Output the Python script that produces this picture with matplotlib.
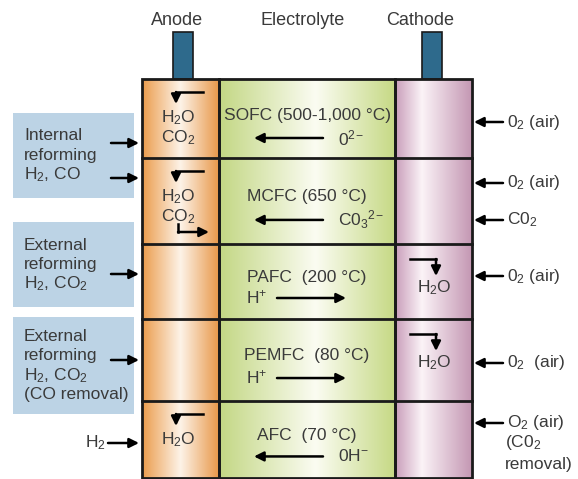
import matplotlib
matplotlib.use("Agg")
import matplotlib.pyplot as plt
import numpy as np
from matplotlib.colors import LinearSegmentedColormap
from matplotlib.patches import Rectangle

plt.rcParams['font.family'] = ['Liberation Sans', 'DejaVu Sans']
plt.rcParams['mathtext.fontset'] = 'custom'
plt.rcParams['mathtext.rm'] = 'Liberation Sans'
plt.rcParams['mathtext.it'] = 'Liberation Sans'

# diagram content
columns = ["Anode", "Electrolyte", "Cathode"]
cells = ["SOFC (500-1,000 °C)", "MCFC (650 °C)", "PAFC  (200 °C)", "PEMFC  (80 °C)", "AFC  (70 °C)"]
ions = [r"$\mathregular{0^{2}}$$^{\mathregular{-}}$", r"$\mathregular{C0_3{}^{2}}$$^{\mathregular{-}}$",
        r"$\mathregular{H^{+}}$", r"$\mathregular{H^{+}}$", r"$\mathregular{0H^{-}}$"]
ion_left = [False, False, True, True, False]   # ion moves toward cathode?
fuel_boxes = [["Internal", "reforming", r"$\mathregular{H_2}$, CO"],
              ["External", "reforming", r"$\mathregular{H_2}$, C$\mathregular{O_2}$"],
              ["External", "reforming", r"$\mathregular{H_2}$, C$\mathregular{O_2}$", "(CO removal)"]]
anode_products = [[r"$\mathregular{H_2O}$", r"$\mathregular{CO_2}$"],
                  [r"$\mathregular{H_2O}$", r"$\mathregular{CO_2}$"], [], [],
                  [r"$\mathregular{H_2O}$"]]
cathode_products = [[], [], [r"$\mathregular{H_2O}$"], [r"$\mathregular{H_2O}$"], []]
oxidants = [[r"$\mathregular{0_2}$ (air)"], [r"$\mathregular{0_2}$ (air)", r"$\mathregular{C0_2}$"],
            [r"$\mathregular{0_2}$ (air)"], [r"$\mathregular{0_2}$  (air)"],
            [r"$\mathregular{O_2}$ (air)", r"($\mathregular{C0_2}$", "removal)"]]

TXT = "#3a3a3a"
FS = 12.5
fig = plt.figure(figsize=(5.78, 4.79), dpi=100)
ax = fig.add_axes([0, 0, 1, 1])
ax.set_xlim(0, 578)
ax.set_ylim(479, 0)
ax.axis("off")

col_x = [(142, 219), (219, 395), (395, 472)]
row_y = [79, 158, 244, 319, 401, 478]
grads = [
    LinearSegmentedColormap.from_list("a", [(0, "#eb9c4c"), (0.5, "#fdf3e8"), (1, "#e8984a")]),
    LinearSegmentedColormap.from_list("e", [(0, "#c3d784"), (0.55, "#fbfcf2"), (1, "#c6d985")]),
    LinearSegmentedColormap.from_list("c", [(0, "#c99dba"), (0.35, "#fbf3f7"), (1, "#c497b3")]),
]
g = np.linspace(0, 1, 256).reshape(1, -1)
for (x0, x1), cm in zip(col_x, grads):
    ax.imshow(g, cmap=cm, extent=(x0, x1, row_y[-1], row_y[0]), aspect="auto", zorder=1)
    ax.add_patch(Rectangle((x0, row_y[0]), x1 - x0, row_y[-1] - row_y[0], fill=False,
                           lw=2, ec="#1a1a1a", zorder=3))
for y in row_y[1:-1]:
    ax.plot([142, 472], [y, y], color="#1a1a1a", lw=2, zorder=3)

# terminals
for x0 in [173, 422]:
    ax.add_patch(Rectangle((x0, 32), 20, 47, fc="#2e6a8c", ec="#1a1a1a", lw=1.2, zorder=2))

for name, xc in zip(columns, [177, 303, 420]):
    ax.text(xc, 20, name, ha="center", va="center", fontsize=13, color=TXT)


def arrow(x0, y0, x1, y1):
    ax.annotate("", xy=(x1, y1), xytext=(x0, y0), zorder=5,
                arrowprops=dict(arrowstyle="-|>", color="black", lw=1.8,
                                mutation_scale=14, shrinkA=0, shrinkB=0))


def bent(x0, y0, xc, y1):
    ax.plot([x0, xc], [y0, y0], color="black", lw=1.8, zorder=5)
    arrow(xc, y0, xc, y1)


# electrolyte texts and ion arrows
for i, (name, ion) in enumerate(zip(cells, ions)):
    top, bot = row_y[i], row_y[i + 1]
    h = bot - top
    ty = top + 0.45 * h if i else 115
    ay = top + 0.72 * h if i else 138
    ax.text(307, ty, name, ha="center", va="center", fontsize=FS, color=TXT, zorder=6)
    if ion_left[i]:
        ax.text(246, ay - 1, ion, ha="left", va="center", fontsize=FS, color=TXT, zorder=6)
        arrow(277, ay, 346, ay)
    else:
        ax.text(338, ay, ion, ha="left", va="center", fontsize=FS, color=TXT, zorder=6)
        arrow(323, ay, 254, ay)

# anode products
for i, prods in enumerate(anode_products):
    top = row_y[i]
    if not prods:
        continue
    bent(203, top + 13, 176, top + 25)
    for k, p in enumerate(prods):
        ax.text(178, top + 39 + 20 * k, p, ha="center", va="center", fontsize=FS, color=TXT, zorder=6)
# MCFC CO2 out arrow
ax.plot([178, 178], [224, 232], color="black", lw=1.8, zorder=5)
arrow(178, 232, 209, 232)

# cathode products
for i, prods in enumerate(cathode_products):
    top = row_y[i]
    for p in prods:
        bent(410, top + 15, 436, top + 32)
        ax.text(434, top + 44, p, ha="center", va="center", fontsize=FS, color=TXT, zorder=6)

# fuel boxes
box_y = [(113, 198), (222, 307), (317, 414)]
arrow_y = [[143, 178], [274], [360]]
for lines, (y0, y1), ays in zip(fuel_boxes, box_y, arrow_y):
    ax.add_patch(Rectangle((13, y0), 121, y1 - y0, fc="#bcd3e5", ec="none", zorder=1))
    n = len(lines)
    step = 19.5
    start = (y0 + y1) / 2 - step * (n - 1) / 2
    for k, line in enumerate(lines):
        ax.text(24, start + k * step, line, ha="left", va="center", fontsize=FS, color=TXT)
    for ay in ays:
        arrow(111, ay, 139, ay)
ax.text(95, 443, r"$\mathregular{H_2}$", ha="center", va="center", fontsize=FS, color=TXT)
arrow(108, 443, 139, 443)

# oxidant side
ox_y = [[122], [183, 220], [276], [363], [423]]
for i, (labels, ys) in enumerate(zip(oxidants, ox_y)):
    for lab, y in zip(labels, ys):
        arrow(503, y, 474, y)
        ax.text(507, y, lab, ha="left", va="center", fontsize=FS, color=TXT)
    if i == 4:
        for k, lab in enumerate(labels[1:]):
            ax.text(505, 443 + 21 * k, lab, ha="left", va="center", fontsize=FS, color=TXT)

fig.savefig("out.png", dpi=100)
